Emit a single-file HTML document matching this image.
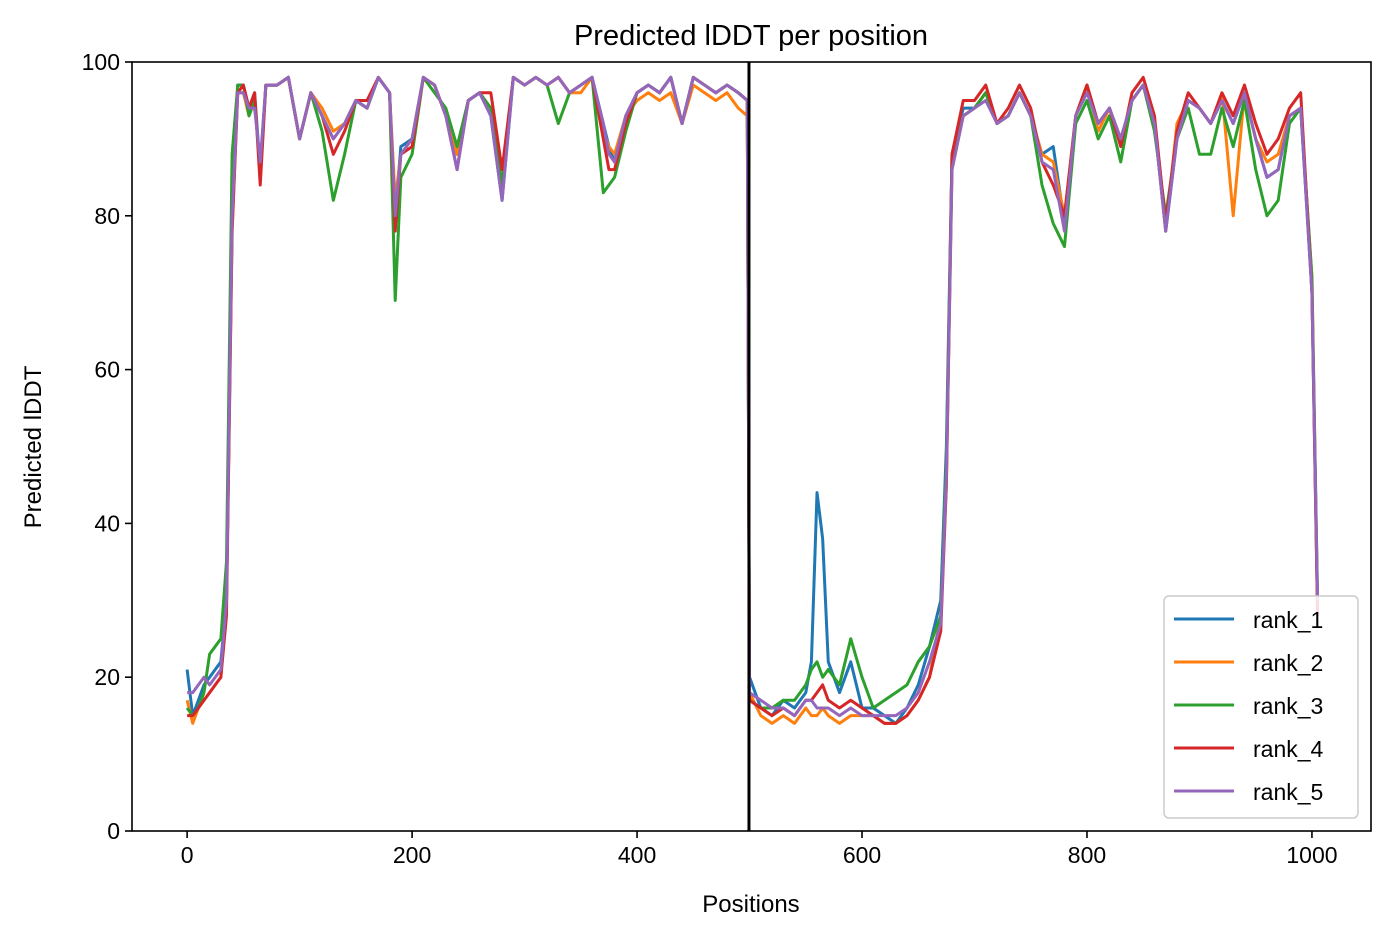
<!DOCTYPE html>
<html><head><meta charset="utf-8"><style>
body{margin:0;background:#fff}
svg{display:block;font-family:"Liberation Sans","DejaVu Sans",sans-serif}
</style></head><body>
<svg id="chart" width="1391" height="939">
<text x="751" y="45" font-size="29" text-anchor="middle">Predicted lDDT per position</text>
<text x="751" y="912" font-size="24" text-anchor="middle">Positions</text>
<text transform="translate(41,447) rotate(-90)" font-size="24" text-anchor="middle">Predicted lDDT</text>
<g id="plot"></g>
</svg>
<script>
const xs=[0,5,10,15,20,25,30,35,40,45,50,55,60,65,70,75,80,90,100,110,120,130,140,150,160,170,180,185,190,200,210,220,230,240,250,260,270,280,290,300,310,320,330,340,350,360,370,375,380,390,400,410,420,430,440,450,460,470,480,490,498,500,510,520,530,540,550,555,560,565,570,580,590,600,610,620,630,640,650,660,670,675,680,690,700,710,720,730,740,750,760,770,780,790,800,810,820,830,840,850,860,870,880,890,900,910,920,930,940,950,960,970,980,990,1000,1005];
const rank1=[21,15,17,19,20,21,22,30,80,97,97,94,96,86,97,97,97,98,90,96,93,90,92,95,94,98,96,80,89,90,98,97,93,88,95,96,93,82,98,97,98,97,98,96,97,98,92,89,87,93,96,97,96,98,92,98,97,96,97,96,95,20,16,15,17,16,18,22,44,38,22,18,22,16,16,15,14,16,19,24,30,50,88,94,94,96,92,93,96,93,88,89,79,93,97,92,94,90,95,97,92,78,90,95,94,92,95,92,96,90,85,86,93,94,70,28];
const rank2=[17,14,16,17,18,19,20,30,78,96,96,93,95,86,97,97,97,98,90,96,94,91,92,95,94,98,96,82,88,90,98,97,93,88,95,96,94,84,98,97,98,97,98,96,96,98,91,89,88,93,95,96,95,96,92,97,96,95,96,94,93,18,15,14,15,14,16,15,15,16,15,14,15,15,15,14,14,15,17,20,28,45,86,93,94,96,92,93,96,93,88,87,80,93,97,91,94,90,95,97,92,78,92,95,94,92,96,80,96,90,87,88,93,94,72,28];
const rank3=[16,15,16,18,23,24,25,35,88,97,97,93,95,86,97,97,97,98,90,96,91,82,88,95,94,98,96,69,85,88,98,96,94,89,95,96,94,84,98,97,98,97,92,96,97,98,83,84,85,91,96,97,96,98,92,98,97,96,97,96,95,17,16,16,17,17,19,21,22,20,21,19,25,20,16,17,18,19,22,24,28,48,87,93,94,96,92,93,96,93,84,79,76,92,95,90,93,87,95,97,91,80,90,94,88,88,94,89,95,86,80,82,92,94,72,30];
const rank4=[15,15,16,17,18,19,20,28,78,96,97,94,96,84,97,97,97,98,90,96,93,88,91,95,95,98,96,78,88,89,98,97,93,86,95,96,96,86,98,97,98,97,98,96,97,98,90,86,86,92,96,97,96,98,92,98,97,96,97,96,95,17,16,15,16,15,17,17,18,19,17,16,17,16,15,14,14,15,17,20,26,45,88,95,95,97,92,94,97,94,87,84,80,93,97,92,94,89,96,98,93,79,91,96,94,92,96,93,97,92,88,90,94,96,70,28];
const rank5=[18,18,19,20,19,20,21,30,80,96,96,94,94,87,97,97,97,98,90,96,93,90,92,95,94,98,96,80,88,90,98,97,93,86,95,96,93,82,98,97,98,97,98,96,97,98,92,88,87,93,96,97,96,98,92,98,97,96,97,96,95,18,17,16,16,15,17,17,16,16,16,15,16,15,15,15,15,16,18,22,27,46,86,93,94,95,92,93,96,93,87,86,78,93,96,92,94,90,95,97,92,78,90,95,94,92,95,92,96,90,85,86,93,94,70,30];
const series=[["rank_1",rank1,"#1f77b4"],["rank_2",rank2,"#ff7f0e"],["rank_3",rank3,"#2ca02c"],["rank_4",rank4,"#d62728"],["rank_5",rank5,"#9467bd"]];
const xTicks=[0,200,400,600,800,1000];
const yTicks=[0,20,40,60,80,100];
const L=132,R=1371,T=62,B=831,XMIN=-49,XMAX=1052.5;
const X=v=>L+(v-XMIN)/(XMAX-XMIN)*(R-L);
const Y=v=>B-v/100*(B-T);
const NS="http://www.w3.org/2000/svg";
const g=document.getElementById('plot');
function mk(t,a,p){const e=document.createElementNS(NS,t);for(const k in a)e.setAttribute(k,a[k]);(p||g).appendChild(e);return e;}
series.forEach(s=>{
  const p=mk('polyline',{points:xs.map((x,i)=>X(x)+','+Y(s[1][i])).join(' '),fill:'none',stroke:s[2],'stroke-width':3,'stroke-linejoin':'round'});
  
  
});
const vl=mk('line',{x1:X(499.5),x2:X(499.5),y1:T,y2:B,stroke:'#000','stroke-width':3});


const fr=mk('rect',{x:L,y:T,width:R-L,height:B-T,fill:'none',stroke:'#000','stroke-width':1.6});


xTicks.forEach(v=>{
  const tk=mk('line',{x1:X(v),x2:X(v),y1:B,y2:B+7,stroke:'#000','stroke-width':1.6});
  
  
  const t=mk('text',{x:X(v),y:B+32,'font-size':23,'text-anchor':'middle'});t.textContent=v;
  
  
});
yTicks.forEach(v=>{
  const tk=mk('line',{x1:L-7,x2:L,y1:Y(v),y2:Y(v),stroke:'#000','stroke-width':1.6});
  
  
  const t=mk('text',{x:L-12,y:Y(v)+8,'font-size':23,'text-anchor':'end'});t.textContent=v;
  
  
});
const lg=mk('g',{});


mk('rect',{x:1164,y:596,width:194,height:222,rx:5,fill:'#fff','fill-opacity':0.85,stroke:'#ccc','stroke-width':1.5},lg);
series.forEach((s,i)=>{
  const y=619+i*43;
  const ln=mk('line',{x1:1174,x2:1234,y1:y,y2:y,stroke:s[2],'stroke-width':3},lg);
  
  
  const t=mk('text',{x:1253,y:y+9,'font-size':23},lg);t.textContent=s[0];
  
  
});
</script>
</body></html>
